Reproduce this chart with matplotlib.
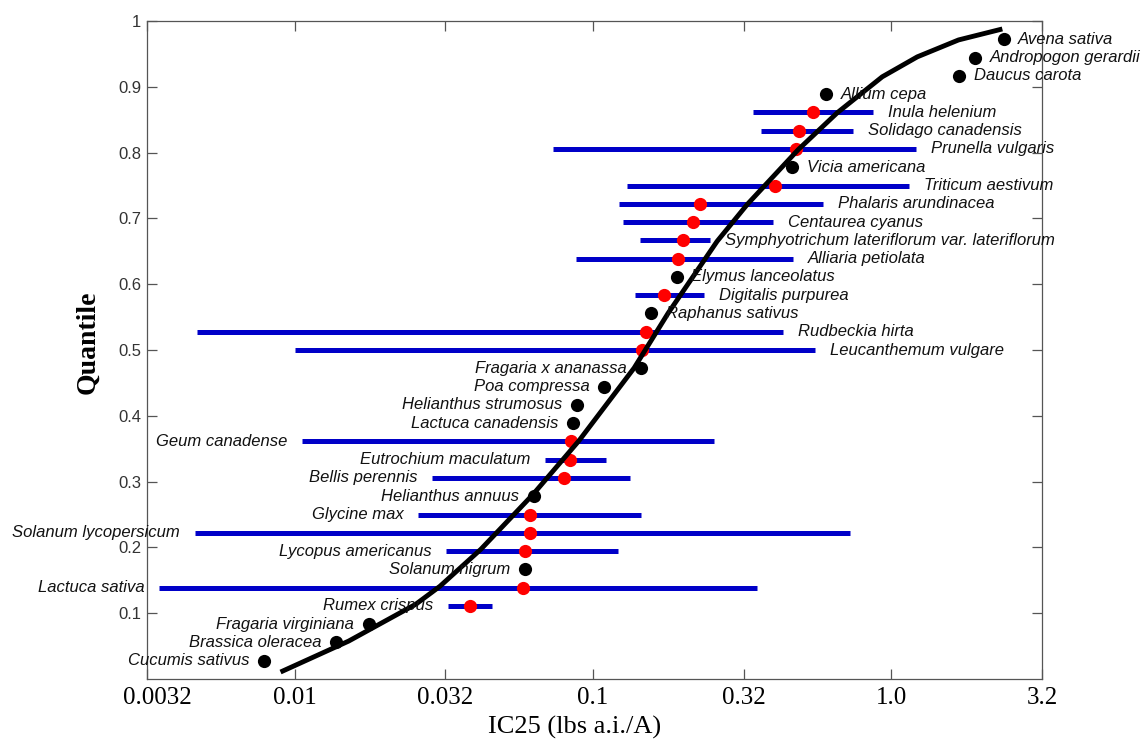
import numpy as np
import matplotlib.pyplot as plt
import matplotlib.transforms as mtransforms

nan = np.nan

# Espécies (de baixo para cima) e quantis
species = ["Cucumis sativus", "Brassica oleracea", "Fragaria virginiana", "Rumex crispus",
           "Lactuca sativa", "Solanum nigrum", "Lycopus americanus", "Solanum lycopersicum",
           "Glycine max", "Helianthus annuus", "Bellis perennis", "Eutrochium maculatum",
           "Geum canadense", "Lactuca canadensis", "Helianthus strumosus", "Poa compressa",
           "Fragaria x ananassa", "Leucanthemum vulgare", "Rudbeckia hirta", "Raphanus sativus",
           "Digitalis purpurea", "Elymus lanceolatus", "Alliaria petiolata",
           "Symphyotrichum lateriflorum var. lateriflorum", "Centaurea cyanus",
           "Phalaris arundinacea", "Triticum aestivum", "Vicia americana", "Prunella vulgaris",
           "Solidago canadensis", "Inula helenium", "Allium cepa", "Daucus carota",
           "Andropogon gerardii", "Avena sativa"]

quantile = [0.028, 0.056, 0.083, 0.111, 0.139, 0.167, 0.194, 0.222, 0.250, 0.278,
            0.306, 0.333, 0.361, 0.389, 0.417, 0.444, 0.472, 0.500, 0.528, 0.556,
            0.583, 0.611, 0.639, 0.667, 0.694, 0.722, 0.750, 0.778, 0.806, 0.833,
            0.861, 0.889, 0.917, 0.944, 0.972]

ic25 = [0.0079, 0.0138, 0.0177, 0.0387, 0.0582, 0.0591, 0.0591, 0.0615, 0.0615, 0.0634,
        0.0799, 0.0837, 0.0844, 0.0857, 0.0884, 0.109, 0.145, 0.146, 0.151, 0.157,
        0.173, 0.191, 0.193, 0.200, 0.217, 0.229, 0.408, 0.465, 0.480, 0.491,
        0.547, 0.605, 1.69, 1.91, 2.38]

ci_lo = [nan, nan, nan, 0.0326, 0.00352, nan, 0.0321, 0.00462, 0.0259, nan,
         0.0288, 0.0690, 0.0106, nan, nan, nan, nan, 0.0100, 0.00469, nan,
         0.138, nan, 0.0877, 0.144, 0.126, 0.122, 0.130, nan, 0.0734, 0.366,
         0.344, nan, nan, nan, nan]

ci_hi = [nan, nan, nan, 0.0458, 0.355, nan, 0.121, 0.728, 0.145, nan,
         0.133, 0.111, 0.255, nan, nan, nan, nan, 0.556, 0.434, nan,
         0.236, nan, 0.469, 0.247, 0.402, 0.592, 1.15, nan, 1.21, 0.745,
         0.871, nan, nan, nan, nan]

# Curva ajustada
curve_x = [0.00897, 0.01517, 0.02547, 0.03069, 0.04206, 0.0629, 0.08975, 0.1374, 0.1787,
           0.2607, 0.3289, 0.4875, 0.6592, 0.9326, 1.222, 1.680, 2.356]
curve_y = [0.0106, 0.0576, 0.1136, 0.1409, 0.1970, 0.2803, 0.3621, 0.4727, 0.5561,
           0.6652, 0.7212, 0.8045, 0.8606, 0.9152, 0.9455, 0.9712, 0.9879]

xticks = [0.0032, 0.01, 0.032, 0.1, 0.32, 1.0, 3.2]
xticklabels = ["0.0032", "0.01", "0.032", "0.1", "0.32", "1.0", "3.2"]
yticks = [0.1, 0.2, 0.3, 0.4, 0.5, 0.6, 0.7, 0.8, 0.9, 1.0]
yticklabels = ["0.1", "0.2", "0.3", "0.4", "0.5", "0.6", "0.7", "0.8", "0.9", "1"]

fig = plt.figure(figsize=(11.47, 7.42), dpi=100)
ax = fig.add_axes([147/1147, 1 - 679/742, (1042 - 147)/1147, (679 - 21)/742])

lo = np.array(ci_lo)
hi = np.array(ci_hi)
q = np.array(quantile)
x = np.array(ic25)
has_ci = ~np.isnan(lo)

# Intervalos (barras azuis)
ax.hlines(q[has_ci], lo[has_ci], hi[has_ci], colors='#0000c8', linewidth=3.6, zorder=1)
# Pontos
ax.plot(x[has_ci], q[has_ci], 'o', color='#ff0000', markersize=9.5, markeredgewidth=0, zorder=2)
ax.plot(x[~has_ci], q[~has_ci], 'o', color='black', markersize=9.5, markeredgewidth=0, zorder=2)
# Curva
ax.plot(curve_x, curve_y, color='black', linewidth=3.5, zorder=3,
        solid_capstyle='butt', solid_joinstyle='round')

# Rótulos das espécies
for i, name in enumerate(species):
    if quantile[i] >= 0.5:
        anchor = hi[i] if has_ci[i] else x[i]
        ax.annotate(name, (anchor, q[i]), xytext=(10.5, 0), textcoords='offset points',
                    ha='left', va='center', fontsize=12, style='italic',
                    family='Liberation Sans', color='#111111', annotation_clip=False, zorder=4)
    else:
        anchor = lo[i] if has_ci[i] else x[i]
        ax.annotate(name, (anchor, q[i]), xytext=(-10.5, 0), textcoords='offset points',
                    ha='right', va='center', fontsize=12, style='italic',
                    family='Liberation Sans', color='#111111', annotation_clip=False, zorder=4)

ax.set_xscale('log')
ax.set_xlim(0.0032, 3.2)
ax.set_ylim(0, 1)
ax.set_xticks(xticks)
ax.set_xticklabels(xticklabels, family='Liberation Serif', fontsize=18)
ax.minorticks_off()
ax.set_yticks(yticks)
ax.set_yticklabels(yticklabels, family='Liberation Sans', fontsize=12, color='#333333')
ax.tick_params(axis='both', direction='in', top=True, right=True, length=7, width=0.9,
               color='#555555')
ax.tick_params(axis='x', pad=6)
ax.tick_params(axis='y', pad=4)
for s in ax.spines.values():
    s.set_color('#555555')
    s.set_linewidth(0.9)

# primeiro rótulo do eixo x um pouco para a direita
first = ax.get_xticklabels()[0]
first.set_transform(first.get_transform() +
                    mtransforms.ScaledTranslation(10/100, 0, fig.dpi_scale_trans))

ax.set_xlabel("IC25 (lbs a.i./A)", family='Liberation Serif', fontsize=19)
ax.xaxis.set_label_coords(0.478, -0.056)
ax.set_ylabel("Quantile", family='Liberation Serif', fontsize=20, fontweight='bold')
ax.yaxis.set_label_coords(-0.052, 0.512)

fig.savefig("out.png", dpi=100)
